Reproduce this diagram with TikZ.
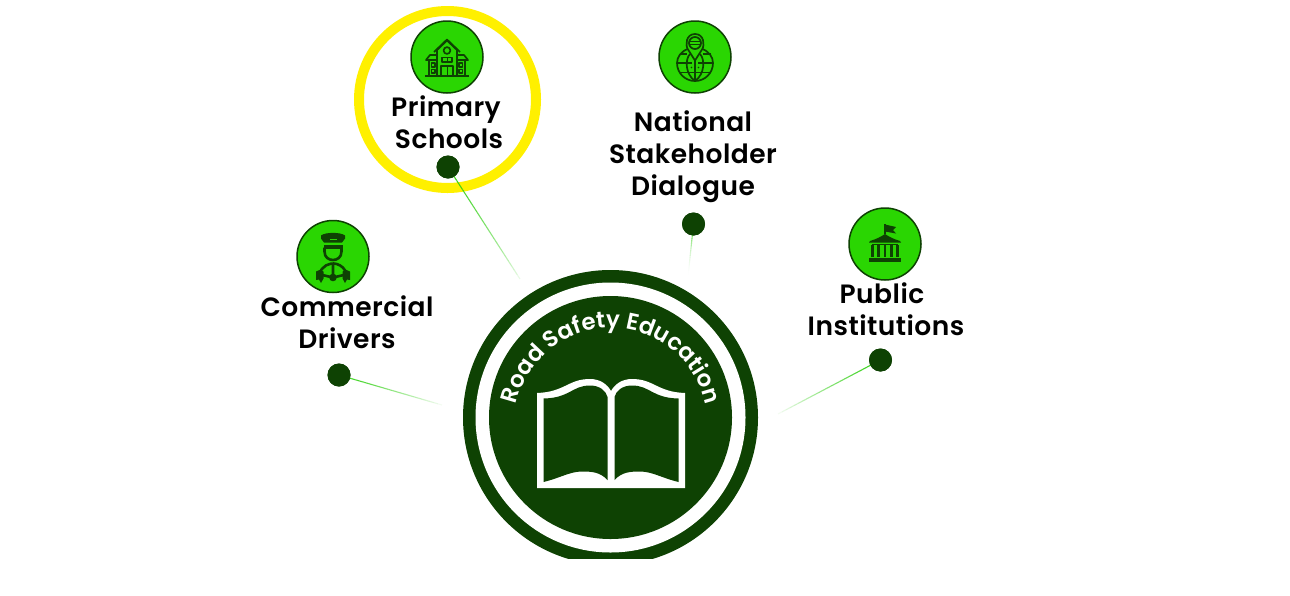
\documentclass[tikz,border=0pt]{standalone}
\usepackage{fontspec}
\setmainfont{Poppins}[BoldFont=Poppins SemiBold]
\usetikzlibrary{decorations.text,calc}
\definecolor{dk}{HTML}{0E4203}
\definecolor{gr}{HTML}{2AD602}
\definecolor{yl}{HTML}{FFF000}
\definecolor{ln}{HTML}{2FD010}
\tikzset{
  x=1pt,y=-1pt,
  iconbg/.style={circle,draw=dk,fill=gr,line width=1.5pt,minimum size=72pt,inner sep=0pt},
  dotnode/.style={circle,fill=dk,minimum size=23pt,inner sep=0pt},
  label/.style={align=center,font=\fontsize{26.5}{32}\selectfont\bfseries\addfontfeature{LetterSpace=1.8},text=black,inner sep=0pt},
  icon/.style={draw=dk,line width=1.7pt,line join=round},
  iconb/.style={draw=dk,line width=2.6pt,line join=round},
  iconf/.style={fill=dk,draw=none},
}
\newcommand{\fadeline}[3]{%
  \foreach \t in {0,0.04,...,0.97}{
    \pgfmathsetmacro{\op}{(1-\t)^#3}
    \draw[ln,line width=1.1pt,opacity=\op,line cap=butt] ($(#1)!\t!(#2)$) -- ($(#1)!\t+0.04!(#2)$);
  }}
\begin{document}
\begin{tikzpicture}
\useasboundingbox (0,0) rectangle (1290,595);
\fill[white] (0,0) rectangle (1290,595);
% centre badge
\coordinate (cc) at (610.5,417.5);
\begin{scope}
\clip (0,0) rectangle (1290,558.5);
\fill[dk] (cc) circle [radius=147.5pt];
\fill[white] (cc) circle [radius=135pt];
\fill[dk] (cc) circle [radius=121.5pt];
\end{scope}
% book
\fill[white] (537,488) -- (537,393) .. controls (565,392) and (568,379) .. (590,379)
  .. controls (600,379) and (607,384) .. (611,391)
  .. controls (615,384) and (622,379) .. (632,379)
  .. controls (654,379) and (657,392) .. (685,393) -- (685,488) -- cycle;
\fill[dk] (543.5,482) -- (543.5,398.5) .. controls (570,398) and (572,385.5) .. (590,385.5)
  .. controls (600,385.5) and (606,391) .. (607.5,397) -- (607.5,480)
  .. controls (600,472) and (592,471.5) .. (582,471.5) .. controls (570,471.5) and (560,478) .. (543.5,482) -- cycle;
\fill[dk] (678.5,482) -- (678.5,398.5) .. controls (652,398) and (650,385.5) .. (632,385.5)
  .. controls (622,385.5) and (616,391) .. (614.5,397) -- (614.5,480)
  .. controls (622,472) and (630,471.5) .. (640,471.5) .. controls (652,471.5) and (662,478) .. (678.5,482) -- cycle;
% curved title
\path[postaction={decorate},decoration={text along path,raise=0pt,text align=center,
  text={|\fontsize{23}{23}\selectfont\bfseries\color{white}|Road Safety Education}}]
  (611,425) ++(175:97pt) arc [start angle=175,end angle=5,radius=97pt];
% yellow ring
\node[circle,draw=yl,line width=10pt,minimum size=177pt,inner sep=0pt] (ring) at (447.5,99.5) {};
% dots
\node[dotnode] (d1) at (448,167) {};
\node[dotnode] (d2) at (693.5,224) {};
\node[dotnode] (d3) at (880.5,360) {};
\node[dotnode] (d4) at (339,375) {};
\coordinate (e1) at (520,279);
\coordinate (e2) at (688,277);
\coordinate (e3) at (778,414);
\coordinate (e4) at (442,405);
\fadeline{d1}{e1}{0.7}
\fadeline{d2}{e2}{2.2}
\fadeline{d3}{e3}{0.9}
\fadeline{d4}{e4}{0.9}
\node[dotnode] at (d1) {};
\node[dotnode] at (d2) {};
\node[dotnode] at (d3) {};
\node[dotnode] at (d4) {};
% icon discs
\node[iconbg] (i1) at (447,57) {};
\node[iconbg] (i2) at (695,57) {};
\node[iconbg] (i3) at (885,244) {};
\node[iconbg] (i4) at (333,256.5) {};
% labels
\node[label] (l1) at (449,122) {\hspace*{-6pt}Primary\\Schools};
\node[label] (l2) at (693,157) {National\\Stakeholder\\Dialogue};
\node[label] (l3) at (886,309) {\hspace*{-8pt}Public\\Institutions};
\node[label] (l4) at (347,322) {Commercial\\Drivers};
% school icon
\begin{scope}[shift={(i1)}]
\draw[icon] (-10,19) -- (-10,-7) -- (0,-16.5) -- (10,-7) -- (10,19);
\draw[icon] (-13,-5) -- (0,-17.5) -- (13,-5);
\draw[icon] (-10,-2) -- (-17,-2) -- (-21,3) -- (-10,3);
\draw[icon] (10,-2) -- (17,-2) -- (21,3) -- (10,3);
\draw[icon] (-18,3) -- (-18,19) -- (18,19) -- (18,3);
\draw[icon] (-22,19) -- (22,19);
\draw[icon] (0,-6.5) circle [radius=3.4pt];
\draw[icon] (-5,0.5) rectangle (5,5);
\draw[icon,line width=1pt] (0,0.5) -- (0,5);
\draw[icon] (-6,19) -- (-6,9) -- (6,9) -- (6,19);
\draw[icon,line width=1pt] (0,9) -- (0,19);
\draw[icon,line width=1.2pt] (-15.5,6) rectangle (-12,10);
\draw[icon,line width=1.2pt] (15.5,6) rectangle (12,10);
\draw[icon,line width=1.2pt] (-15.5,12.5) rectangle (-12,16);
\draw[icon,line width=1.2pt] (15.5,12.5) rectangle (12,16);
\end{scope}
% globe-and-pin icon
\begin{scope}[shift={(i2)}]
\draw[icon] (-6,-8.5) .. controls (-14,-6) and (-18,0) .. (-18,6) .. controls (-18,16) and (-10,24) .. (0,24)
  .. controls (10,24) and (18,16) .. (18,6) .. controls (18,0) and (14,-6) .. (6,-8.5);
\draw[icon] (-5,-3) .. controls (-10,2) and (-10,17) .. (0,24) .. controls (10,17) and (10,2) .. (5,-3);
\draw[icon] (0,4) -- (0,24);
\draw[icon] (-18,6) -- (-3,6) (3,6) -- (18,6);
\draw[icon] (-15.5,-3) -- (-8,-3) (8,-3) -- (15.5,-3);
\draw[icon] (-15.5,15.5) -- (15.5,15.5);
\draw[icon,fill=gr] (0,3.5) -- (-7,-7.5) .. controls (-10,-12) and (-9,-23) .. (0,-23) .. controls (9,-23) and (10,-12) .. (7,-7.5) -- cycle;
\draw[icon,fill=gr] (0,-14) circle [radius=6pt];
\draw[icon,line width=1.2pt] (-5.5,-15.5) -- (5.5,-15.5) (-5.5,-12.5) -- (5.5,-12.5);
\fill[dk] (-3.5,10.5) circle [radius=0.8pt] (0,10.5) circle [radius=0.8pt] (3.5,10.5) circle [radius=0.8pt];
\end{scope}
% institution icon
\begin{scope}[shift={(i3)}]
\draw[icon] (0,-10) -- (0,-20);
\fill[iconf] (0,-19.5) -- (11,-17) -- (8,-14) -- (11,-10.5) -- (0,-12.5) -- cycle;
\fill[iconf] (-16,-1.5) -- (-15,-3) .. controls (-8,-5) and (-3,-8) .. (0,-10) .. controls (3,-8) and (8,-5) .. (15,-3) -- (16,-1.5) -- cycle;
\fill[iconf] (-13,0) rectangle (13,1.3);
\foreach \c in {-12.5,-6.3,0,6.3,12.5}{\draw[iconb] (\c,1) -- (\c,13);}
\fill[iconf] (-16,13.5) rectangle (16,18);
\end{scope}
% driver icon
\begin{scope}[shift={(i4)}]
\fill[iconf] (-12,-18) -- (-12,-21) .. controls (-8,-24.5) and (8,-24.5) .. (12,-21) -- (12,-18) -- (9,-14) -- (-9,-14) -- cycle;
\fill[gr] (-3.5,-18) rectangle (3.5,-16.8);
\fill[iconf] (-9.5,-11.5) rectangle (9.5,-8);
\draw[iconb] (-8.5,-9) -- (-8.5,-5) .. controls (-8.5,1) and (-4,3.5) .. (0,3.5) .. controls (4,3.5) and (8.5,1) .. (8.5,-5) -- (8.5,-9);
\draw[iconb] (0,21) ++(165:14pt) arc [start angle=165,end angle=15,radius=14pt];
\fill[iconf] (0,21) circle [radius=3.8pt];
\draw[iconb] (0,21) -- (0,8) (0,21) -- (-13,18) (0,21) -- (13,18);
\fill[iconf] (-17,15) .. controls (-15,13) and (-12,13) .. (-9.5,15) -- (-9.5,22) -- (-12,26.5) -- (-14,23) -- (-17,23.5) -- cycle;
\fill[iconf] (17,15) .. controls (15,13) and (12,13) .. (9.5,15) -- (9.5,22) -- (12,26.5) -- (14,23) -- (17,23.5) -- cycle;
\end{scope}
\end{tikzpicture}
\end{document}
